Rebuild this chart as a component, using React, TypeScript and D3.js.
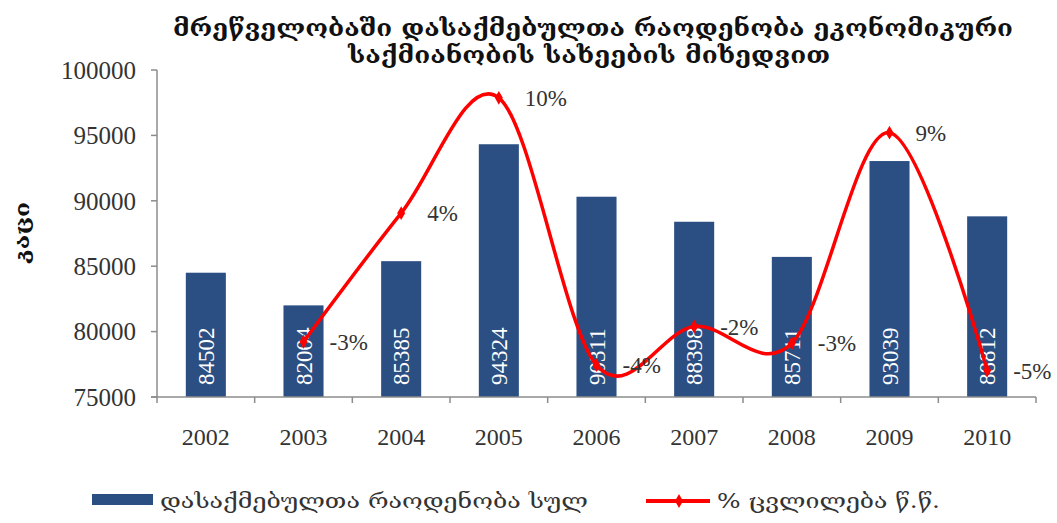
import React, { FC, useMemo } from 'react'
import * as d3 from 'd3'

const years = ['2002', '2003', '2004', '2005', '2006', '2007', '2008', '2009', '2010']
const employed = [84502, 82004, 85385, 94324, 90311, 88398, 85711, 93039, 88812]
const changeYears = ['2003', '2004', '2005', '2006', '2007', '2008', '2009', '2010']
const changePct = [-2.96, 4.12, 10.47, -4.25, -2.12, -3.04, 8.55, -4.54]
const changeLabels = ['-3%', '4%', '10%', '-4%', '-2%', '-3%', '9%', '-5%']
const yTicks = [75000, 80000, 85000, 90000, 95000, 100000]

const titleLines = [
	'მრეწველობაში დასაქმებულთა რაოდენობა ეკონომიკური',
	'საქმიანობის სახეების მიხედვით'
]
const yLabel = 'კაცი'
const legendBar = 'დასაქმებულთა რაოდენობა სულ'
const legendLine = '% ცვლილება წ.წ.'

const W = 1057
const H = 523
const left = 157
const right = 1036
const top = 70
const bottom = 397

const serif = "'Liberation Serif', 'Times New Roman', serif"
const geo = "'DejaVu Serif', 'DejaVu Sans', serif"
const barColor = '#2b4f82'
const lineColor = '#ff0000'
const axisColor = '#8c8c8c'
const textColor = '#333'

const App: FC = () => {
	const x = useMemo(() => d3.scaleBand<string>().domain(years).range([left, right]), [])
	const y = useMemo(() => d3.scaleLinear().domain([75000, 100000]).range([bottom, top]), [])
	const y2 = useMemo(() => d3.scaleLinear().domain([-6, 12]).range([bottom, top]), [])

	const bw = x.bandwidth()
	const barW = bw * 0.41
	const cx = (yr: string) => (x(yr) as number) + bw / 2

	const linePath = d3
		.line<number>()
		.x((_, i) => cx(changeYears[i]))
		.y((d) => y2(d))
		.curve(d3.curveCardinal.tension(0))(changePct) as string

	const diamond = d3.symbol(d3.symbolDiamond, 55)() as string

	// title line extents measured on the reference
	const titleSpans = [
		{ cx: 593, w: 840, y: 36 },
		{ cx: 589, w: 482, y: 63 }
	]

	return (
		<svg
			width={W}
			height={H}
			style={{ position: 'absolute', left: 0, top: 0, background: '#fff' }}
		>
			{/* title */}
			{titleLines.map((t, i) => (
				<text
					key={i}
					x={titleSpans[i].cx}
					y={titleSpans[i].y}
					textAnchor="middle"
					textLength={titleSpans[i].w}
					lengthAdjust="spacingAndGlyphs"
					fontFamily={geo}
					fontWeight="bold"
					fontSize={23}
					fill="#111"
				>
					{t}
				</text>
			))}

			{/* y label */}
			<text
				transform="translate(22, 233) rotate(-90)"
				textAnchor="middle"
				dy="0.35em"
				textLength={62}
				lengthAdjust="spacingAndGlyphs"
				fontFamily={geo}
				fontWeight="bold"
				fontSize={20}
				fill="#111"
			>
				{yLabel}
			</text>

			{/* y axis */}
			<line x1={left} x2={left} y1={top} y2={bottom} stroke={axisColor} strokeWidth={1.5} />
			{yTicks.map((t) => (
				<g key={t}>
					<line x1={left - 6} x2={left} y1={y(t)} y2={y(t)} stroke={axisColor} strokeWidth={1.5} />
					<text
						x={136}
						y={y(t)}
						dy="0.35em"
						textAnchor="end"
						fontFamily={serif}
						fontSize={25}
						fill={textColor}
					>
						{t}
					</text>
				</g>
			))}

			{/* bars */}
			{employed.map((v, i) => {
				const bx = cx(years[i]) - barW / 2
				return (
					<g key={years[i]}>
						<rect x={bx} y={y(v)} width={barW} height={bottom - y(v)} fill={barColor} />
						<text
							transform={`translate(${cx(years[i])}, ${bottom - 12}) rotate(-90)`}
							dy="0.35em"
							textAnchor="start"
							fontFamily={serif}
							fontSize={23}
							fill="#fff"
						>
							{v}
						</text>
					</g>
				)
			})}

			{/* x axis */}
			<line x1={left - 6} x2={right} y1={bottom} y2={bottom} stroke={axisColor} strokeWidth={1.5} />
			{[...years.map((yr) => x(yr) as number), right].map((tx, i) => (
				<line key={i} x1={tx} x2={tx} y1={bottom} y2={bottom + 6} stroke={axisColor} strokeWidth={1.5} />
			))}
			{years.map((yr) => (
				<text
					key={yr}
					x={cx(yr)}
					y={437}
					dy="0.35em"
					textAnchor="middle"
					fontFamily={serif}
					fontSize={24}
					fill={textColor}
				>
					{yr}
				</text>
			))}

			{/* change line */}
			<path d={linePath} fill="none" stroke={lineColor} strokeWidth={3.5} />
			{changePct.map((p, i) => (
				<g key={changeYears[i]}>
					<path
						d={diamond}
						transform={`translate(${cx(changeYears[i])}, ${y2(p)})`}
						fill={lineColor}
					/>
					<text
						x={cx(changeYears[i]) + 26}
						y={y2(p)}
						dy="0.35em"
						fontFamily={serif}
						fontSize={23}
						fill={textColor}
					>
						{changeLabels[i]}
					</text>
				</g>
			))}

			{/* legend */}
			<rect x={92} y={494} width={61} height={11} fill={barColor} />
			<text
				x={160}
				y={501}
				dy="0.35em"
				textLength={428}
				lengthAdjust="spacingAndGlyphs"
				fontFamily={geo}
				fontSize={20}
				fill={textColor}
			>
				{legendBar}
			</text>
			<line x1={646} x2={710} y1={501} y2={501} stroke={lineColor} strokeWidth={4} />
			<path d={diamond} transform="translate(679, 501)" fill={lineColor} />
			<text
				x={717}
				y={501}
				dy="0.35em"
				textLength={223}
				lengthAdjust="spacingAndGlyphs"
				fontFamily={geo}
				fontSize={20}
				fill={textColor}
			>
				{legendLine}
			</text>
		</svg>
	)
}

export default App
